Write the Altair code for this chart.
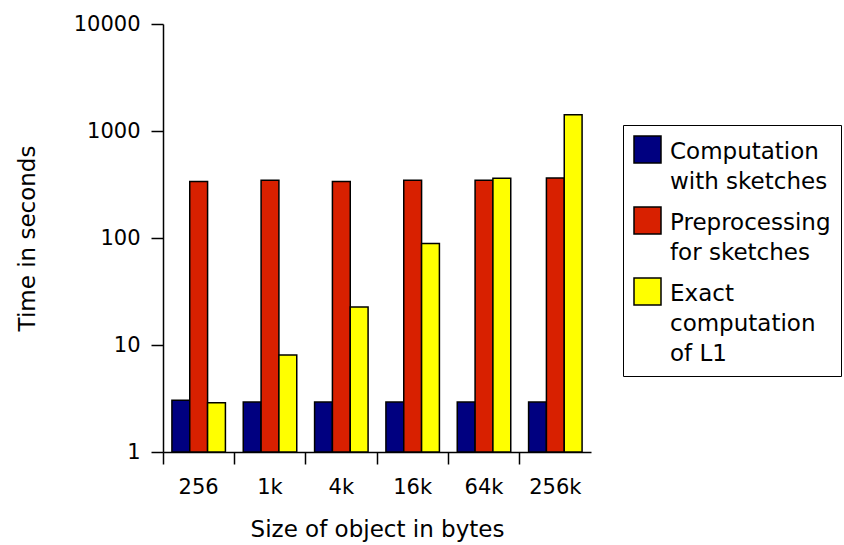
import altair as alt
import pandas as pd

# Object sizes on the x axis
sizes = ["256", "1k", "4k", "16k", "64k", "256k"]

# Timings in seconds for each series
series = [
    "Computation with sketches",
    "Preprocessing for sketches",
    "Exact computation of L1",
]
computation_with_sketches = [3.05, 2.93, 2.93, 2.93, 2.93, 2.93]
preprocessing_for_sketches = [338, 347, 338, 347, 347, 364]
exact_computation_of_l1 = [2.88, 8.05, 22.7, 89, 362, 1420]

colors = ["#000080", "#d82000", "#ffff00"]

# Legend labels split across lines
legend_lines = {
    "Computation with sketches": ["Computation", "with sketches"],
    "Preprocessing for sketches": ["Preprocessing", "for sketches"],
    "Exact computation of L1": ["Exact", "computation", "of L1"],
}

rows = []
for name, values in zip(series, [computation_with_sketches,
                                 preprocessing_for_sketches,
                                 exact_computation_of_l1]):
    for size, v in zip(sizes, values):
        rows.append({"size": size, "series": name, "seconds": v, "base": 1})
df = pd.DataFrame(rows)

label_expr = " : ".join(
    f"datum.label == '{k}' ? {v!r}" for k, v in legend_lines.items()
) + " : datum.label"

FONT = "DejaVu Sans"
TICK_FS = 21
TITLE_FS = 23
LEGEND_FS = 23
LABEL_DY = -9  # shared vertical nudge of guide labels (compensated on the axes)

chart = alt.Chart(df).mark_bar(stroke="black", strokeWidth=1.5).encode(
    x=alt.X(
        "size:N",
        sort=sizes,
        scale=alt.Scale(paddingInner=0, paddingOuter=0),
        axis=alt.Axis(
            title="Size of object in bytes",
            labelAngle=0,
            bandPosition=0,
            tickSize=12,
            labelPadding=12 - LABEL_DY,
            titlePadding=21,
        ),
    ),
    xOffset=alt.XOffset(
        "series:N",
        sort=series,
        scale=alt.Scale(paddingInner=0, paddingOuter=0.5),
    ),
    y=alt.Y(
        "seconds:Q",
        scale=alt.Scale(type="log", domain=[1, 10000], nice=False),
        axis=alt.Axis(
            title="Time in seconds",
            values=[1, 10, 100, 1000, 10000],
            format="d",
            tickSize=12,
            labelPadding=11,
            labelOffset=-LABEL_DY,
            titlePadding=34,
        ),
    ),
    y2="base:Q",
    color=alt.Color(
        "series:N",
        sort=series,
        scale=alt.Scale(domain=series, range=colors),
        legend=alt.Legend(
            title=None,
            orient="none",
            legendX=460,
            legendY=101,
            symbolType="square",
            symbolSize=729,
            symbolStrokeColor="black",
            symbolStrokeWidth=1.5,
            symbolOpacity=1,
            labelExpr=label_expr,
            labelFontSize=LEGEND_FS,
            labelFont=FONT,
            labelColor="black",
            labelBaseline="top",
            labelLimit=400,
            labelOffset=8,
            strokeColor="black",
            padding=10,
            rowPadding=10,
        ),
    ),
).properties(
    width=428,
    height=428,
    autosize=alt.AutoSizeParams(type="none"),
    padding={"left": 163, "top": 24, "right": 253, "bottom": 93},
).configure(
    style={"guide-label": {"lineHeight": 30, "dy": LABEL_DY}}
).configure_view(
    stroke=None
).configure_axis(
    grid=False,
    domainColor="black",
    domainWidth=1.5,
    tickColor="black",
    tickWidth=1.5,
    labelFont=FONT,
    labelFontSize=TICK_FS,
    labelColor="black",
    titleFont=FONT,
    titleFontSize=TITLE_FS,
    titleFontWeight="normal",
    titleColor="black",
)

chart.save("out.html", embed_options={"renderer": "svg", "actions": False})
